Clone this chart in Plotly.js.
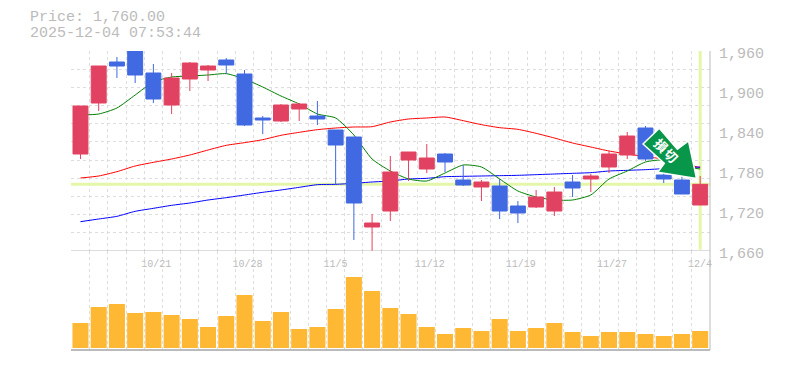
<!DOCTYPE html>
<html><head><meta charset="utf-8">
<script src="https://cdn.plot.ly/plotly-3.0.1.min.js"></script>
<style>html,body{margin:0;padding:0;background:#fff}#c{width:785px;height:370px}</style>
</head><body><div id="c"></div>
<script>
const idx=[...Array(35).keys()];
const opens=[1805.5,1882,1943.5,1960,1927,1879,1918,1931.5,1946.5,1925.5,1859.5,1855,1873,1862.5,1841.5,1831,1696,1720,1796.5,1783,1805.5,1766.5,1756,1757.5,1727.5,1726,1720,1763.5,1768,1786,1804,1844.5,1774,1766.5,1729];
const highs=[1877.5,1937.5,1951,1960,1940.5,1927,1943.5,1939,1949.5,1931.5,1862.5,1880.5,1882,1885,1841.5,1831,1715.5,1802.5,1808.5,1820.5,1807,1789,1766.5,1768,1735,1751.5,1756,1774,1775.5,1810,1838.5,1847.5,1789,1778.5,1772.5];
const lows=[1798,1870,1919.5,1912,1882,1865.5,1900,1915,1925.5,1847.5,1835.5,1853.5,1855,1849,1760.5,1676.5,1660,1705,1765,1777,1778.5,1757.5,1735,1708,1702,1724.5,1712.5,1741,1748.5,1777,1798,1795,1762,1745.5,1729];
const closes=[1877.5,1937.5,1937.5,1924,1888,1919.5,1942,1937.5,1939,1849,1856.5,1879,1880.5,1858,1819,1732,1702,1778.5,1808.5,1799.5,1793.5,1759,1763.5,1720,1717,1741,1748.5,1754.5,1772.5,1805.5,1832.5,1798,1768,1745.5,1760];
const maShort=[1864,1865.5,1874.5,1894,1913.5,1921,1922.5,1924,1926,1918,1906,1892.5,1880.5,1865.5,1859.5,1834,1798,1780,1768,1765,1777,1789,1786,1768,1750,1741,1736.5,1736.5,1744,1768,1780,1793.5,1796.5,1787.5,1783];
const maMid=[1769.5,1772.5,1779,1787.5,1793,1798,1804,1811.5,1818.5,1822.5,1827,1833.5,1838,1842,1844.5,1846,1846.5,1853.5,1858,1859.5,1861,1855.5,1849.5,1845,1842.5,1836.5,1829.5,1822,1816,1810,1805.5,1801.5,1798,1792,1785];
const maLong=[1704,1708,1712,1719.5,1724,1728.5,1732,1736.5,1740,1744,1748,1751.5,1755.5,1759.5,1760,1761.5,1763.5,1765,1768,1769,1771.5,1772,1772.5,1773,1773.5,1774.5,1775.5,1776.5,1777.5,1780,1781,1782,1783.5,1784.5,1786];
const volumes=[25,41,44,35,36,33,29,21,32,53,27,36,19,21,39,71,57,40,34,21,14,20,17,29,17,20,25,16,12,16,16,14,12,14,17];
const priceTicks=[1660,1720,1780,1840,1900,1960];
const priceLabels=['1,660','1,720','1,780','1,840','1,900','1,960'];
const dateTicks=[3.5,8.5,13.5,18.5,23.5,28.5,33.5];
const dateLabels=['10/21','10/28','11/5','11/12','11/19','11/27','12/4'];
const lastPrice=1760, lastIndex=34;
const titleLines=['Price: 1,760.00','2025-12-04 07:53:44'];
const arrowWords=['損','切'];

const mono='"Liberation Mono",monospace';
const R=[-0.52,34.54], PR=[1660,1960], VR=[-2,97];
const gridX=idx.map(i=>i-0.5);
const dom=0.3311;
const ML=70.5,MR=75,MT=51,MB=20;
const fx=X=>(X-ML)/(785-ML-MR), fy=Y=>(370-MB-Y)/(370-MT-MB);
const arrowOutline=[[659.3,128.3],[643,144],[664.3,163.3],[657.7,172.3],[696.5,178.5],[688.5,141],[677.3,149.3]];
const arrowPath=arrowOutline.map((p,i)=>(i?'L ':'M ')+fx(p[0]).toFixed(4)+' '+fy(p[1]).toFixed(4)).join(' ')+' Z';
const traces=[
 {type:'bar',x:idx,y:volumes,xaxis:'x',yaxis:'y3',width:0.88,marker:{color:'#FFB833',line:{width:0}},hoverinfo:'skip'},
 {type:'scatter',mode:'lines',x:[R[0],R[1]],y:[lastPrice,lastPrice],xaxis:'x',yaxis:'y',line:{color:'#E4F6A8',width:3}},
 {type:'scatter',mode:'lines',x:[lastIndex,lastIndex],y:[1662,PR[1]],xaxis:'x',yaxis:'y',line:{color:'#E4F6A8',width:3}},
 {type:'scatter',mode:'lines',x:idx,y:maMid,xaxis:'x',yaxis:'y',line:{color:'#FF0000',width:1,shape:'spline',smoothing:0.6}},
 {type:'scatter',mode:'lines',x:idx,y:maLong,xaxis:'x',yaxis:'y',line:{color:'#0000FF',width:1,shape:'spline',smoothing:0.6}},
 {type:'scatter',mode:'lines',x:idx,y:maShort,xaxis:'x',yaxis:'y',line:{color:'#008000',width:1,shape:'spline',smoothing:0.6}},
 {type:'candlestick',x:idx,open:opens,high:highs,low:lows,close:closes,xaxis:'x2',yaxis:'y2',whiskerwidth:0,
  increasing:{line:{color:'#E24261',width:1},fillcolor:'#E24261'},decreasing:{line:{color:'#4169E1',width:1},fillcolor:'#4169E1'},hoverinfo:'skip'}
];
const gridCol='#DDDDDD';
const layout={
 width:785,height:370,autosize:false,showlegend:false,paper_bgcolor:'#fff',plot_bgcolor:'#fff',
 margin:{l:ML,r:MR,t:MT,b:MB,pad:0},boxgap:0.18,boxgroupgap:0,bargap:0.12,
 font:{family:mono,color:'#BBBBBB'},
 xaxis:{domain:[0,1],range:R,anchor:'y',tickmode:'array',tickvals:gridX,showticklabels:false,ticks:'',showgrid:true,gridcolor:gridCol,griddash:'3px,3px',gridwidth:1,zeroline:false,showline:false,rangeslider:{visible:false}},
 xaxis2:{overlaying:'x',domain:[0,1],range:R,anchor:'y2',tickmode:'array',tickvals:dateTicks,ticktext:dateLabels,tickfont:{family:mono,size:10,color:'#BBBBBB'},ticks:'',ticklabelposition:'outside right',ticklabelstandoff:5,ticklabelshift:-3,showgrid:false,zeroline:false,showline:false,rangeslider:{visible:false}},
 yaxis:{domain:[dom,1],range:PR,anchor:'x',tickmode:'linear',tick0:1660,dtick:300/11,showticklabels:false,ticks:'',showgrid:true,gridcolor:gridCol,griddash:'3px,3px',gridwidth:1,zeroline:false,showline:false},
 yaxis2:{overlaying:'y',domain:[dom,1],range:PR,anchor:'x2',side:'right',tickmode:'array',tickvals:priceTicks,ticktext:priceLabels,tickfont:{family:mono,size:15,color:'#BBBBBB'},ticks:'',ticklabelshift:2,ticklabelstandoff:8,showgrid:false,zeroline:false,showline:false},
 yaxis3:{domain:[0,dom],range:VR,anchor:'x',showticklabels:false,ticks:'',showgrid:false,zeroline:false,showline:false},
 annotations:[
  {xref:'paper',yref:'paper',x:fx(27),y:fy(17.5),xanchor:'left',yanchor:'middle',showarrow:false,text:titleLines[0],font:{family:mono,size:15,color:'#BBBBBB'}},
  {xref:'paper',yref:'paper',x:fx(27),y:fy(33.5),xanchor:'left',yanchor:'middle',showarrow:false,text:titleLines[1],font:{family:mono,size:15,color:'#BBBBBB'}},
  {xref:'paper',yref:'paper',x:fx(661.5),y:fy(145),xanchor:'center',yanchor:'middle',text:'<b>'+arrowWords[0]+'</b>',textangle:45,showarrow:false,font:{family:'"Noto Sans CJK JP"',size:13,color:'#fff'}},
  {xref:'paper',yref:'paper',x:fx(671.5),y:fy(155),xanchor:'center',yanchor:'middle',text:'<b>'+arrowWords[1]+'</b>',textangle:45,showarrow:false,font:{family:'"Noto Sans CJK JP"',size:13,color:'#fff'}}
 ],
 shapes:[
  {type:'line',xref:'paper',yref:'y',x0:0,x1:1,y0:1660,y1:1660,line:{color:'#BBBBBB',width:1}},
  {type:'line',xref:'paper',yref:'paper',x0:0,x1:1,y0:0,y1:0,line:{color:'#BBBBBB',width:2}},
  {type:'line',xref:'paper',yref:'paper',x0:1,x1:1,y0:0,y1:1,line:{color:'#BBBBBB',width:1}},
  {type:'path',xref:'paper',yref:'paper',layer:'above',path:arrowPath,line:{width:1.5,color:'#FFFFFF'},fillcolor:'#07964A'}
 ]
};
Plotly.newPlot('c',traces,layout,{displayModeBar:false,staticPlot:true});
</script></body></html>
